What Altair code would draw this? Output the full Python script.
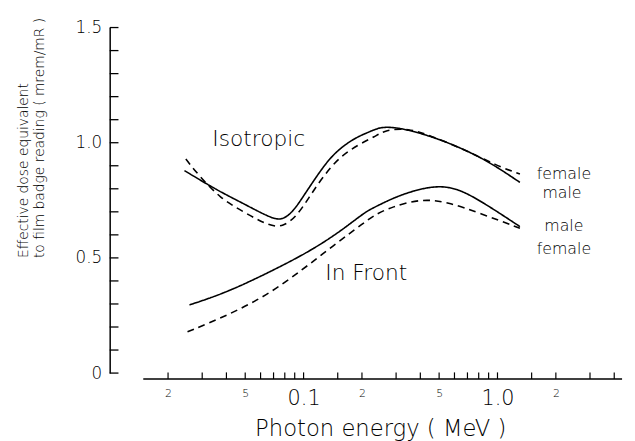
import altair as alt
import pandas as pd

# ---- data (photon energy in MeV, dose ratio in mrem/mR) ----
iso_male_x = [0.0243, 0.0359, 0.0490, 0.0697, 0.0784, 0.0881, 0.0991, 0.1158, 0.1408, 0.178, 0.208, 0.234, 0.253, 0.307, 0.455, 0.671, 0.918, 1.305]
iso_male_y = [0.879, 0.793, 0.736, 0.667, 0.667, 0.700, 0.764, 0.850, 0.950, 1.014, 1.040, 1.058, 1.068, 1.067, 1.029, 0.972, 0.914, 0.828]

iso_female_x = [0.0247, 0.0284, 0.0373, 0.0490, 0.0670, 0.0784, 0.0916, 0.107, 0.1252, 0.1521, 0.1923, 0.234, 0.263, 0.346, 0.455, 0.671, 0.992, 1.305]
iso_female_y = [0.929, 0.864, 0.757, 0.700, 0.636, 0.636, 0.678, 0.764, 0.850, 0.936, 0.993, 1.027, 1.055, 1.064, 1.029, 0.972, 0.900, 0.864]

front_male_x = [0.0258, 0.0403, 0.0725, 0.1114, 0.1583, 0.208, 0.234, 0.307, 0.455, 0.621, 0.918, 1.305]
front_male_y = [0.296, 0.350, 0.453, 0.536, 0.621, 0.700, 0.721, 0.771, 0.814, 0.807, 0.721, 0.636]

front_female_x = [0.0252, 0.0403, 0.0645, 0.0991, 0.1408, 0.208, 0.234, 0.284, 0.404, 0.552, 0.817, 1.305]
front_female_y = [0.179, 0.250, 0.336, 0.450, 0.550, 0.657, 0.688, 0.721, 0.757, 0.743, 0.693, 0.629]

# axis definitions
x_domain = [0.01, 4.39]
y_domain = [0.0, 1.5]
x_label_values = [0.02, 0.05, 0.1, 0.2, 0.5, 1.0, 2.0]
x_tick_values = [0.02, 0.03, 0.04, 0.05, 0.06, 0.07, 0.08, 0.09, 0.1, 0.15, 0.2, 0.3, 0.4,
                 0.5, 0.6, 0.7, 0.8, 0.9, 1.0, 1.5, 2.0, 3.0, 4.0]
x_line_extent = [0.0149, 4.39]
y_label_values = [0.0, 0.5, 1.0, 1.5]
y_tick_values = [0.0, 0.1, 0.2, 0.3, 0.4, 0.5, 0.6, 0.7, 0.8, 0.9, 1.0, 1.1, 1.2, 1.3, 1.4, 1.5]

# annotations
curve_labels = ["Isotropic", "In Front"]
curve_label_x = [0.0587, 0.2105]
curve_label_y = [1.016, 0.433]
sex_labels = ["female", "male", "male", "female"]
sex_label_x = [2.2, 2.15, 2.2, 2.2]
sex_label_y = [0.866, 0.781, 0.639, 0.540]

FONT = "DejaVu Sans"
WEIGHT = 200
INK = "#000"

rows = []
for name, sex, xs, ys in [
    ("Isotropic", "male", iso_male_x, iso_male_y),
    ("Isotropic", "female", iso_female_x, iso_female_y),
    ("In Front", "male", front_male_x, front_male_y),
    ("In Front", "female", front_female_x, front_female_y),
]:
    for i, (a, b) in enumerate(zip(xs, ys)):
        rows.append({"geometry": name, "sex": sex, "series": name + " " + sex, "order": i, "energy": a, "dose": b})
curves = pd.DataFrame(rows)

xscale = alt.Scale(type="log", domain=x_domain, nice=False)
yscale = alt.Scale(domain=y_domain, nice=False, zero=False)

x_axis = alt.Axis(
    values=x_label_values,
    labelExpr="datum.value == 0.1 ? '0.1' : datum.value == 1 ? '1.0' : substring(format(datum.value, '.0e'), 0, 1)",
    labelFontSize={"condition": {"test": "datum.value == 0.1 || datum.value == 1", "value": 21}, "value": 11},
    labelBaseline="top",
    labelPadding=15,
    labelFont=FONT,
    labelFontWeight=WEIGHT,
    labelColor=INK,
    labelFlush=False,
    labelOverlap=False,
    domain=False,
    ticks=False,
    tickSize=0,
    grid=False,
    title="Photon  energy   ( MeV )",
    titleFont=FONT,
    titleFontSize=23,
    titleFontWeight=WEIGHT,
    titleColor=INK,
    titleAlign="center",
    titleBaseline="alphabetic",
    titleX=274,
    titleY=63,
)

y_axis = alt.Axis(
    values=y_label_values,
    labelExpr="datum.value == 0 ? '0' : format(datum.value, '.1f')",
    labelFontSize=17,
    labelFont=FONT,
    labelFontWeight=WEIGHT,
    labelColor=INK,
    labelPadding=8,
    ticks=False,
    tickSize=0,
    domain=True,
    domainColor="#000",
    domainWidth=1.5,
    grid=False,
    title=["Effective dose  equivalent", "to film badge reading ( mrem/mR )"],
    titleFont=FONT,
    titleFontSize=14,
    titleFontWeight=WEIGHT,
    titleColor=INK,
    titleAngle=270,
    titleAlign="left",
    titleBaseline="top",
    titleLineHeight=16,
    titleLimit=400,
    titleX=-94,
    titleY=233,
)

lines = alt.Chart(curves).mark_line(color="#000", strokeWidth=1.6, interpolate="basis").encode(
    x=alt.X("energy:Q", scale=xscale, axis=x_axis),
    y=alt.Y("dose:Q", scale=yscale, axis=y_axis),
    detail="series:N",
    order="order:Q",
    strokeDash=alt.StrokeDash(
        "sex:N",
        scale=alt.Scale(domain=["male", "female"], range=[[1, 0], [7, 5]]),
        legend=None,
    ),
)

# x axis baseline (detached from the y axis) and its inward ticks
x_axis_level = -6 / 233.33
xline = alt.Chart(pd.DataFrame({"a": [x_line_extent[0]], "b": [x_line_extent[1]], "y": [x_axis_level]})).mark_rule(
    color="#000", strokeWidth=1.5
).encode(x=alt.X("a:Q", scale=xscale), x2="b:Q", y=alt.Y("y:Q", scale=yscale))

xticks = alt.Chart(pd.DataFrame({"v": x_tick_values, "y0": [x_axis_level] * len(x_tick_values), "y1": [0.003] * len(x_tick_values)})).mark_rule(
    color="#000", strokeWidth=1.2
).encode(x=alt.X("v:Q", scale=xscale), y=alt.Y("y0:Q", scale=yscale), y2="y1:Q")

# y axis inward ticks
yticks = alt.Chart(pd.DataFrame({"v": y_tick_values, "x0": [x_domain[0]] * len(y_tick_values), "x1": [0.0111] * len(y_tick_values)})).mark_rule(
    color="#000", strokeWidth=1.3
).encode(y=alt.Y("v:Q", scale=yscale), x=alt.X("x0:Q", scale=xscale), x2="x1:Q")

big_text = alt.Chart(pd.DataFrame({"t": curve_labels, "x": curve_label_x, "y": curve_label_y})).mark_text(
    font=FONT, fontSize=22, fontWeight=WEIGHT, color=INK, align="center", baseline="middle"
).encode(x=alt.X("x:Q", scale=xscale), y=alt.Y("y:Q", scale=yscale), text="t:N")

sex_text = alt.Chart(pd.DataFrame({"t": sex_labels, "x": sex_label_x, "y": sex_label_y})).mark_text(
    font=FONT, fontSize=16, fontWeight=WEIGHT, color=INK, align="center", baseline="middle"
).encode(x=alt.X("x:Q", scale=xscale), y=alt.Y("y:Q", scale=yscale), text="t:N")

chart = alt.layer(lines, xline, xticks, yticks, big_text, sex_text).properties(
    width=519,
    height=350,
    autosize=alt.AutoSizeParams(type="none"),
    padding={"left": 103, "top": 17, "right": 5, "bottom": 66},
    background="white",
).configure_view(stroke=None)

chart.save("out.html", embed_options={"renderer": "svg", "actions": False})
